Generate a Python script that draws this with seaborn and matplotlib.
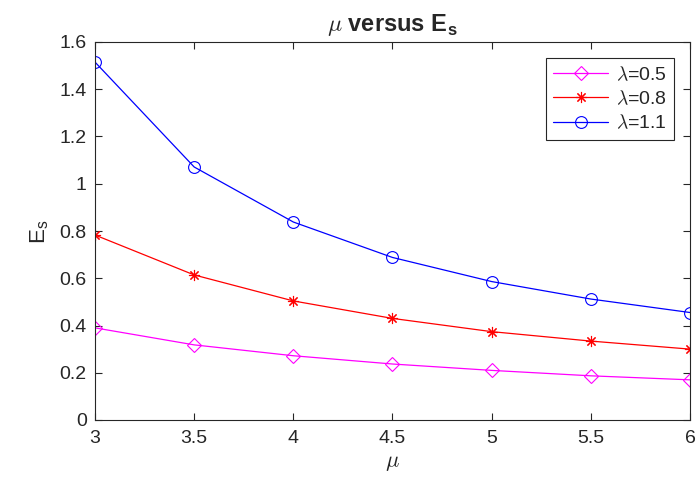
import numpy as np
import pandas as pd
import matplotlib
matplotlib.use("Agg")
import matplotlib.pyplot as plt
import seaborn as sns

# ----------------------------------
# Data
# ----------------------------------

mu = [3, 3.5, 4, 4.5, 5, 5.5, 6]

es_05 = [0.39, 0.318, 0.272, 0.237, 0.210, 0.187, 0.170]
es_08 = [0.783, 0.614, 0.504, 0.430, 0.374, 0.334, 0.300]
es_11 = [1.515, 1.071, 0.838, 0.688, 0.586, 0.512, 0.455]

labels = [r"$\lambda$=0.5", r"$\lambda$=0.8", r"$\lambda$=1.1"]
colors = ["#FF00FF", "#FF0000", "#0000FF"]
markers = ["D", (8, 2, 0), "o"]
msizes = [7, 8, 8.5]
faces = ["none", "#FF0000", "none"]

# ----------------------------------
# Style
# ----------------------------------

sns.set_style("ticks")
plt.rcParams["font.family"] = ["Liberation Sans", "DejaVu Sans"]
plt.rcParams["mathtext.fontset"] = "cm"

fig = plt.figure(figsize=(6.97, 4.79), dpi=100)
ax = fig.add_axes([95 / 697, 59 / 479, 595 / 697, 378 / 479])

for vals, lab, col, mk, ms, fc in zip(
    [es_05, es_08, es_11], labels, colors, markers, msizes, faces
):
    df = pd.DataFrame({"mu": mu, "es": vals})
    sns.lineplot(
        data=df,
        x="mu",
        y="es",
        ax=ax,
        color=col,
        marker=mk,
        markersize=ms,
        markerfacecolor=fc,
        markeredgecolor=col,
        markeredgewidth=0.8,
        linewidth=0.9,
        label=lab,
    )

ax.set_xlim(3, 6)
ax.set_ylim(0, 1.6)
ax.set_xticks([3, 3.5, 4, 4.5, 5, 5.5, 6])
ax.set_xticklabels(["3", "3.5", "4", "4.5", "5", "5.5", "6"])
ax.set_yticks(np.arange(0, 1.61, 0.2))
ax.set_yticklabels(["0", "0.2", "0.4", "0.6", "0.8", "1", "1.2", "1.4", "1.6"])

ax.tick_params(direction="in", top=True, right=True, labelsize=14,
               colors="#262626", length=5, width=0.8)
ax.tick_params(axis="x", pad=7)
ax.tick_params(axis="y", pad=6)
for s in ax.spines.values():
    s.set_visible(True)
    s.set_color("#262626")
    s.set_linewidth(0.8)

ax.set_xlabel(r"$\mu$", fontsize=16, labelpad=4)
ax.set_ylabel(r"E$_\mathregular{s}$", fontsize=16, labelpad=6)
ax.set_title(r"$\mu$ versus E$_\mathregular{s}$", fontsize=17, fontweight="bold", pad=8)

leg = ax.legend(loc="upper right", fontsize=14, frameon=True, fancybox=False,
                edgecolor="#262626", borderaxespad=0.8, handlelength=2.8,
                handletextpad=0.4, labelspacing=0.3, borderpad=0.4)
leg.get_frame().set_linewidth(0.8)
leg.get_frame().set_alpha(1)

plt.savefig("out.png", dpi=100)
plt.close()
